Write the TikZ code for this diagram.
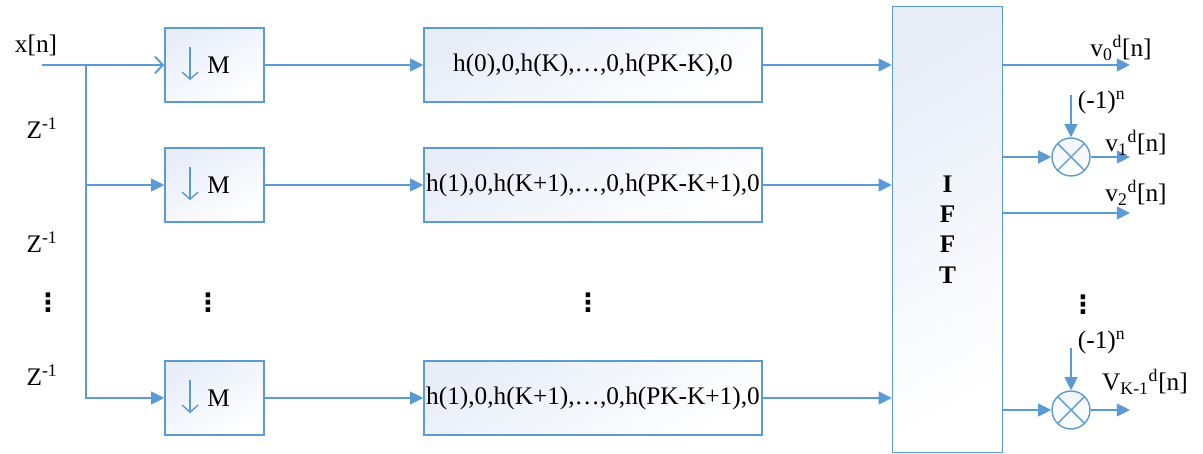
\documentclass[tikz,border=0pt]{standalone}
\usepackage{fontspec}
\setmainfont{Liberation Serif}
\newfontfamily\symfont{DejaVu Sans}
\usetikzlibrary{arrows.meta}
\definecolor{lineblue}{RGB}{91,155,213}
\definecolor{boxtop}{RGB}{232,237,248}
\newcommand{\figsize}{\fontsize{18}{21.6}\selectfont}
\newcommand{\vdotsym}{{\symfont\bfseries ⋮}}

\begin{document}
\begin{tikzpicture}[font=\figsize,
  flow/.style={draw=lineblue, line width=1.4pt, -{Triangle[length=0.33cm,width=0.32cm]}},
  box/.style={draw=lineblue, line width=1pt, top color=boxtop, bottom color=white, shading angle=30, inner sep=0pt, minimum height=1.85cm},
  mbox/.style={box, minimum width=2.475cm,
    path picture={\draw[lineblue, line width=1pt, -{Straight Barb[length=0.18cm,width=0.4cm]}]
      ([xshift=-0.61cm,yshift=0.45cm]path picture bounding box.center) -- ++(0,-0.83);}},
  hbox/.style={box, minimum width=8.45cm},
  mixer/.style={circle, draw=lineblue, line width=1pt, minimum size=0.95cm, inner sep=0pt, top color=boxtop!60, bottom color=white,
    path picture={\draw[lineblue, line width=1pt]
      (path picture bounding box.north west) -- (path picture bounding box.south east)
      (path picture bounding box.north east) -- (path picture bounding box.south west);}}]
   \useasboundingbox (0,0) rectangle (30.075,11.35);
   % input and delay line
   \node (xn) at (0.9,10.225) {x[n]};
   \coordinate (xin) at (1.05,9.725);
   \coordinate (split) at (2.15,9.725);
   \node (z1) at (1.05,8.15) {Z\textsuperscript{-1}};
   \node (z2) at (1.05,5.3) {Z\textsuperscript{-1}};
   \node (z3) at (1.05,1.975) {Z\textsuperscript{-1}};
   \node (d0) at (1.2,3.775) {\vdotsym};
   % downsamplers
   \node[mbox] (m1) at (5.3625,9.725) {\hspace{0.2cm}M};
   \node[mbox] (m2) at (5.3625,6.725) {\hspace{0.2cm}M};
   \node[mbox] (m3) at (5.3625,1.4) {\hspace{0.2cm}M};
   \node (d1) at (5.2,3.775) {\vdotsym};
   % polyphase filters
   \node[hbox] (h1) at (14.825,9.725) {h(0),0,h(K),…,0,h(PK-K),0};
   \node[hbox] (h2) at (14.825,6.725) {h(1),0,h(K+1),…,0,h(PK-K+1),0};
   \node[hbox] (h3) at (14.825,1.4) {h(1),0,h(K+1),…,0,h(PK-K+1),0};
   \node (d2) at (14.7,3.775) {\vdotsym};
   % IFFT
   \node[box, minimum width=2.75cm, minimum height=11.15cm, align=center, font=\figsize\bfseries] (fft) at (23.6875,5.6125) {I\\F\\F\\T};
   \draw[draw=lineblue, line width=1.4pt, -{Straight Barb[length=0.2cm,width=0.42cm]}] (xin) -- (m1.west);
   \draw[flow] (split) |- (m2.west);
   \draw[flow] (split) |- (m3.west);
   \draw[flow] (m1.east) -- (h1.west);
   \draw[flow] (m2.east) -- (h2.west);
   \draw[flow] (m3.east) -- (h3.west);
   \draw[flow] (h1.east) -- (h1.east -| fft.west);
   \draw[flow] (h2.east) -- (h2.east -| fft.west);
   \draw[flow] (h3.east) -- (h3.east -| fft.west);
   % outputs
   \node[mixer] (mx1) at (26.775,7.425) {};
   \node[mixer] (mx2) at (26.775,1.1) {};
   \coordinate (o0) at (28.25,9.725);
   \coordinate (o1) at (28.25,7.425);
   \coordinate (o2) at (28.25,6.025);
   \coordinate (o3) at (28.25,1.1);
   \coordinate (s1) at (26.775,8.975);
   \coordinate (s2) at (26.775,2.65);
   \draw[flow] (fft.east |- o0) -- (o0);
   \draw[flow] (fft.east |- mx1) -- (mx1.west);
   \draw[flow] (mx1.east) -- (o1);
   \draw[flow] (fft.east |- o2) -- (o2);
   \draw[flow] (fft.east |- mx2) -- (mx2.west);
   \draw[flow] (mx2.east) -- (o3);
   \draw[flow] (s1) -- (mx1.north);
   \draw[flow] (s2) -- (mx2.north);
   \node[anchor=west] (sg1) at (26.825,8.8) {(-1)\textsuperscript{n}};
   \node[anchor=west] (sg2) at (26.825,2.8) {(-1)\textsuperscript{n}};
   \node (v0) at (28.025,10.15) {v\textsubscript{0}\textsuperscript{d}[n]};
   \node (v1) at (28.4,7.775) {v\textsubscript{1}\textsuperscript{d}[n]};
   \node (v2) at (28.4,6.525) {v\textsubscript{2}\textsuperscript{d}[n]};
   \node (vk) at (28.625,1.8) {V\textsubscript{K-1}\textsuperscript{d}[n]};
   \node (d3) at (27.075,3.725) {\vdotsym};
\end{tikzpicture}
\end{document}
